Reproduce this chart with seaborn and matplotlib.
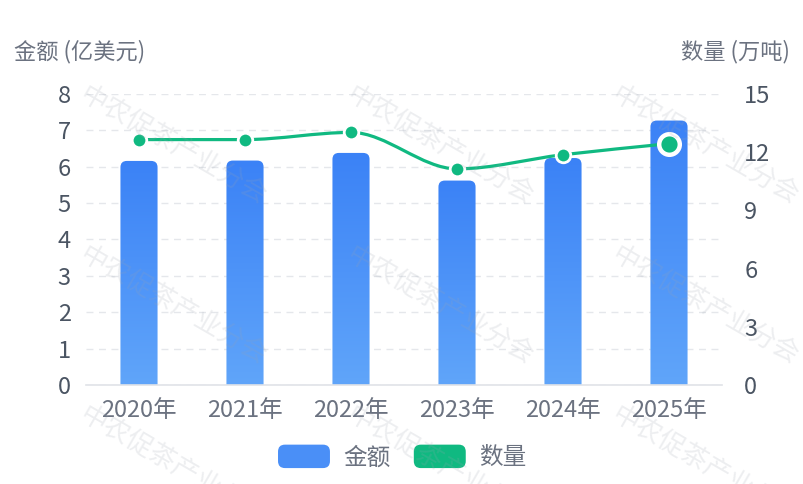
import numpy as np
import pandas as pd
import matplotlib
matplotlib.use("Agg")
import matplotlib.pyplot as plt
import seaborn as sns
from matplotlib.path import Path
from matplotlib.patches import PathPatch, FancyBboxPatch, Patch
from matplotlib.colors import LinearSegmentedColormap
from matplotlib.legend_handler import HandlerBase

# data
years = ["2020年", "2021年", "2022年", "2023年", "2024年", "2025年"]
amount = [6.16, 6.17, 6.38, 5.62, 6.24, 7.27]       # 亿美元 (left axis)
volume = [12.65, 12.65, 13.02, 11.14, 11.87, 12.44]  # 万吨 (right axis)
left_ticks = [0, 1, 2, 3, 4, 5, 6, 7, 8]
right_ticks = [0, 3, 6, 9, 12, 15]

sns.set_theme(style="white")
plt.rcParams["font.family"] = ["Noto Sans CJK SC", "DejaVu Sans"]

BLUE_TOP = "#3b82f6"
BLUE_BOT = "#60a5fa"
GREEN = "#10b981"
TXT = "#4b5563"
TITLE = "#6b7280"

df = pd.DataFrame({"year": years, "amount": amount, "volume": volume})

fig = plt.figure(figsize=(8.04, 4.84), dpi=100)
ax = fig.add_axes([86 / 804, 1 - 385 / 484, (722 - 86) / 804, (385 - 94) / 484])

sns.barplot(data=df, x="year", y="amount", ax=ax, width=0.35, color=BLUE_TOP, alpha=0)
ax.set_ylim(0, 8)
ax.set_xlim(-0.5, len(years) - 0.5)

# gradient bars with rounded tops
cmap = LinearSegmentedColormap.from_list("bl", [BLUE_TOP, BLUE_BOT])
grad = np.linspace(0, 1, 256).reshape(-1, 1)
asp = (636 / 6) / (291 / 8)
for p in ax.patches:
    x0, w, h = p.get_x(), p.get_width(), p.get_height()
    shape = FancyBboxPatch((x0, -0.3), w, h + 0.3,
                           boxstyle="round,pad=0,rounding_size=0.06",
                           mutation_aspect=asp, facecolor="none", edgecolor="none",
                           transform=ax.transData)
    ax.add_patch(shape)
    im = ax.imshow(grad, cmap=cmap, aspect="auto", extent=(x0, x0 + w, 0, h),
                   origin="upper", zorder=2)
    im.set_clip_path(shape)
ax.set_xlim(-0.5, len(years) - 0.5)
ax.set_ylim(0, 8)

ax.set_yticks(left_ticks)
ax.yaxis.grid(True, color="#e5e7eb", linestyle=(0, (5, 4)), linewidth=1)
ax.set_axisbelow(True)
for s in ["top", "right", "left"]:
    ax.spines[s].set_visible(False)
ax.spines["bottom"].set_color("#e0e3e8")
ax.spines["bottom"].set_linewidth(1.2)
ax.tick_params(axis="both", length=0, colors=TXT, labelsize=17)
ax.tick_params(axis="y", pad=11)
ax.tick_params(axis="x", pad=10)
for t in ax.get_xticklabels():
    t.set_color(TITLE)
ax.set_xlabel("")
ax.set_ylabel("")

# right axis: smooth line (monotone cubic bezier through the points)
ax2 = ax.twinx()
ax2.set_ylim(0, 15)
ax2.set_yticks(right_ticks)
for s in ax2.spines.values():
    s.set_visible(False)
ax2.tick_params(axis="y", length=0, colors=TXT, labelsize=17, pad=16)
ax2.grid(False)

xs = np.arange(len(years), dtype=float)
ys = np.array(volume)
d = np.diff(ys)
m = np.zeros_like(ys)
m[0], m[-1] = d[0], d[-1]
for i in range(1, len(ys) - 1):
    m[i] = 0 if d[i - 1] * d[i] <= 0 else 2 / (1 / d[i - 1] + 1 / d[i])
verts = [(xs[0], ys[0])]
codes = [Path.MOVETO]
for i in range(len(ys) - 1):
    verts += [(xs[i] + 1 / 3, ys[i] + m[i] / 3),
              (xs[i + 1] - 1 / 3, ys[i + 1] - m[i + 1] / 3),
              (xs[i + 1], ys[i + 1])]
    codes += [Path.CURVE4] * 3
ax2.add_patch(PathPatch(Path(verts, codes), facecolor="none", edgecolor=GREEN,
                        linewidth=2.3, zorder=3))
sns.scatterplot(x=xs[:-1], y=ys[:-1], ax=ax2, s=110, color=GREEN,
                edgecolor="white", linewidth=2, zorder=4)
sns.scatterplot(x=xs[-1:], y=ys[-1:], ax=ax2, s=220, color=GREEN,
                edgecolor="white", linewidth=3.2, zorder=4)
ax2.set_xlim(-0.5, len(years) - 0.5)

# axis titles
fig.text(14 / 804, 1 - 52 / 484, "金额 (亿美元)", color=TITLE, fontsize=16,
         ha="left", va="center")
fig.text(790 / 804, 1 - 52 / 484, "数量 (万吨)", color=TITLE, fontsize=16,
         ha="right", va="center")


# legend with rounded swatches
class RoundHandler(HandlerBase):
    def create_artists(self, legend, orig_handle, xdescent, ydescent, width,
                       height, fontsize, trans):
        return [FancyBboxPatch((-xdescent, -ydescent), width, height,
                               boxstyle="round,pad=0,rounding_size=5",
                               facecolor=orig_handle.get_facecolor(),
                               edgecolor="none", transform=trans)]


handles = [Patch(facecolor="#4a8ff7"), Patch(facecolor=GREEN)]
leg = fig.legend(handles, ["金额", "数量"], loc="center", ncol=2,
                 bbox_to_anchor=(402 / 804, 1 - 457 / 484), frameon=False,
                 fontsize=17, handlelength=2.2, handleheight=1.15,
                 handletextpad=0.55, columnspacing=1.0,
                 handler_map={Patch: RoundHandler()})
for t in leg.get_texts():
    t.set_color(TITLE)

# watermark
for wy in [82, 242, 402]:
    for wx in [88, 355, 620]:
        fig.text(wx / 804, 1 - wy / 484, "中农促茶产业分会", fontsize=19,
                 color="#9ca3af", alpha=0.18, rotation=-30,
                 rotation_mode="anchor", ha="left", va="top", zorder=10)

fig.savefig("out.png", dpi=100)
